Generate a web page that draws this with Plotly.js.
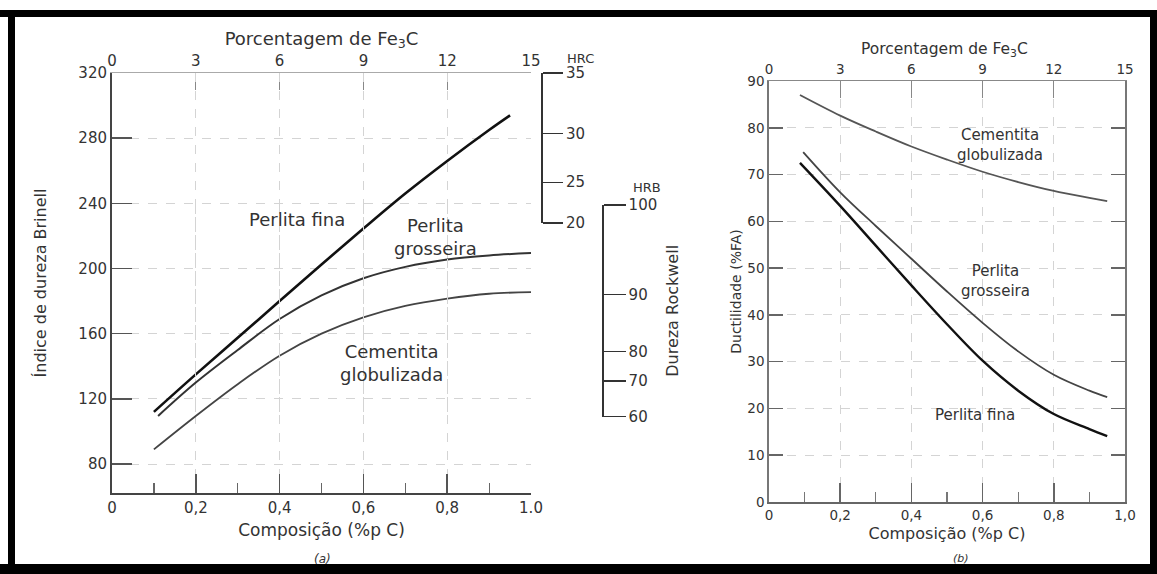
<!DOCTYPE html>
<html><head><meta charset="utf-8">
<script src="https://cdn.plot.ly/plotly-3.0.1.min.js"></script>
<style>html,body{margin:0;padding:0;background:#fff;} #chart{width:1157px;height:574px;}</style>
</head><body><div id="chart"></div>
<script>
// ---------- DATA ----------
const compTicks = [0, 0.2, 0.4, 0.6, 0.8, 1.0];
const compTickTextA = ["0", "0,2", "0,4", "0,6", "0,8", "1.0"];
const compTickTextB = ["0", "0,2", "0,4", "0,6", "0,8", "1,0"];
const compMinor = [0.1, 0.3, 0.5, 0.7, 0.9];
const fe3cTicks = [0, 3, 6, 9, 12, 15];
const fe3cRange = [0, 15];
const brinellTicks = [80, 120, 160, 200, 240, 280, 320];
const brinellRange = [62.2, 320];
const hrcLabels = ["35", "30", "25", "20"];
const hrcBrinell = [320, 283, 253, 228];
const hrbLabels = ["100", "90", "80", "70", "60"];
const hrbBrinell = [239, 184, 149, 131, 109];
const ductTicks = [0, 10, 20, 30, 40, 50, 60, 70, 80, 90];
const ductRange = [0, 90];

// (a) hardness vs composition
const fineC_a = [0.10, 0.20, 0.30, 0.40, 0.50, 0.60, 0.70, 0.80, 0.90, 0.95];
const fineHB = [112, 135, 157.5, 180, 202.5, 224.5, 246, 266, 285, 294];
const coarseC_a = [0.11, 0.20, 0.30, 0.40, 0.50, 0.60, 0.70, 0.80, 0.90, 1.00];
const coarseHB = [109.5, 130, 150, 169, 183.5, 194, 201, 205.5, 208, 209.5];
const sphC_a = [0.10, 0.20, 0.30, 0.40, 0.50, 0.60, 0.70, 0.80, 0.90, 1.00];
const sphHB = [89, 109.5, 129, 146.5, 160, 170, 177, 181.5, 184.5, 185.5];

// (b) ductility vs composition
const sphC_b = [0.087, 0.20, 0.30, 0.40, 0.50, 0.60, 0.70, 0.80, 0.90, 0.95];
const sphRA = [87, 82.6, 79.2, 76, 73.2, 70.6, 68.4, 66.5, 65, 64.3];
const coarseC_b = [0.096, 0.20, 0.30, 0.40, 0.50, 0.60, 0.70, 0.80, 0.90, 0.95];
const coarseRA = [74.8, 66.2, 59, 52, 45, 38.3, 32.2, 27.2, 23.8, 22.4];
const fineC_b = [0.087, 0.20, 0.30, 0.40, 0.50, 0.60, 0.70, 0.80, 0.90, 0.95];
const fineRA = [72.5, 63.3, 54.8, 46.3, 38, 30.2, 23.8, 18.8, 15.6, 14.1];

// ---------- LAYOUT ----------
const W = 1157, H = 574;
const px = v => v / W;
const py = v => 1 - v / H;
const FONT = "DejaVu Sans";
const TXT = "#333";

const yDomA = [py(493), py(73)];
const brinellToPaper = b => yDomA[0] + (b - brinellRange[0]) / (brinellRange[1] - brinellRange[0]) * (yDomA[1] - yDomA[0]);
const hrcMin = Math.min(...hrcBrinell), hrcMax = Math.max(...hrcBrinell);
const hrbMin = Math.min(...hrbBrinell), hrbMax = Math.max(...hrbBrinell);

const grid = {showgrid: true, gridcolor: "#d4d4d4", griddash: "dash", gridwidth: 1};

const traces = [
  {x: fineC_a, y: fineHB, xaxis: "x", yaxis: "y", mode: "lines", line: {color: "#111", width: 2.6, shape: "spline", smoothing: 1}},
  {x: coarseC_a, y: coarseHB, xaxis: "x", yaxis: "y", mode: "lines", line: {color: "#333", width: 2, shape: "spline", smoothing: 1}},
  {x: sphC_a, y: sphHB, xaxis: "x", yaxis: "y", mode: "lines", line: {color: "#444", width: 1.8, shape: "spline", smoothing: 1}},
  {x: [], y: [], xaxis: "x3", yaxis: "y", mode: "lines"},
  {x: [], y: [], xaxis: "x", yaxis: "y3", mode: "lines"},
  {x: [], y: [], xaxis: "x", yaxis: "y4", mode: "lines"},
  {x: sphC_b, y: sphRA, xaxis: "x2", yaxis: "y2", mode: "lines", line: {color: "#555", width: 1.8, shape: "spline", smoothing: 1}},
  {x: coarseC_b, y: coarseRA, xaxis: "x2", yaxis: "y2", mode: "lines", line: {color: "#444", width: 1.8, shape: "spline", smoothing: 1}},
  {x: fineC_b, y: fineRA, xaxis: "x2", yaxis: "y2", mode: "lines", line: {color: "#111", width: 2.4, shape: "spline", smoothing: 1}},
  {x: [], y: [], xaxis: "x4", yaxis: "y2", mode: "lines"}
];

const ann = (text, x, y, xref, yref, size, extra) => Object.assign({
  text, x, y, xref, yref, showarrow: false, font: {family: FONT, size, color: TXT},
  xanchor: "center", yanchor: "middle"
}, extra || {});

const layout = {
  width: W, height: H,
  margin: {l: 0, r: 0, t: 0, b: 0},
  paper_bgcolor: "#fff", plot_bgcolor: "rgba(0,0,0,0)",
  showlegend: false,
  font: {family: FONT, color: TXT},
  // ---- panel (a) ----
  xaxis: Object.assign({
    domain: [px(112), px(531)], range: [0, 1], anchor: "y",
    tickmode: "array", tickvals: compTicks, ticktext: compTickTextA,
    ticks: "inside", ticklen: 19, tickwidth: 1.5, tickcolor: "#555",
    minor: {tickmode: "array", tickvals: compMinor, ticks: "inside", ticklen: 10, tickcolor: "#666", tickwidth: 1.2, showgrid: false},
    showline: true, linecolor: "#444", linewidth: 2, zeroline: false,
    tickfont: {family: FONT, size: 15, color: TXT},
    title: {text: "Composição (%p C)", font: {family: FONT, size: 17, color: TXT}, standoff: 8}
  }, grid),
  yaxis: Object.assign({
    domain: yDomA, range: brinellRange, anchor: "x",
    tickmode: "array", tickvals: brinellTicks,
    ticks: "inside", ticklen: 20, tickwidth: 1.5, tickcolor: "#555",
    showline: true, linecolor: "#444", linewidth: 2, zeroline: false,
    tickfont: {family: FONT, size: 15, color: TXT},
    title: {text: "Índice de dureza Brinell", font: {family: FONT, size: 16, color: TXT}, standoff: 28}
  }, grid),
  xaxis3: {
    overlaying: "x", side: "top", anchor: "y", range: fe3cRange,
    tickmode: "array", tickvals: fe3cTicks,
    ticks: "inside", ticklen: 17, tickwidth: 1.2, tickcolor: "#888",
    showline: true, linecolor: "#aaa", linewidth: 1.5, showgrid: false, zeroline: false,
    tickfont: {family: FONT, size: 15, color: TXT},
    title: {text: "Porcentagem de Fe<sub>3</sub>C", font: {family: FONT, size: 18, color: TXT}, standoff: 1}
  },
  yaxis3: {
    anchor: "free", position: px(542), side: "right",
    domain: [brinellToPaper(hrcMin), brinellToPaper(hrcMax)], range: [hrcMin, hrcMax],
    tickmode: "array", tickvals: hrcBrinell, ticktext: hrcLabels,
    ticks: "outside", ticklen: 20, tickwidth: 1.3, tickcolor: "#333",
    showline: true, linecolor: "#333", linewidth: 2, showgrid: false, zeroline: false,
    tickfont: {family: FONT, size: 15, color: TXT}
  },
  yaxis4: {
    anchor: "free", position: px(602), side: "right",
    domain: [brinellToPaper(hrbMin), brinellToPaper(hrbMax)], range: [hrbMin, hrbMax],
    tickmode: "array", tickvals: hrbBrinell, ticktext: hrbLabels,
    ticks: "outside", ticklen: 22, tickwidth: 1.3, tickcolor: "#333",
    showline: true, linecolor: "#333", linewidth: 1.6, showgrid: false, zeroline: false,
    tickfont: {family: FONT, size: 15, color: TXT},
    title: {text: "Dureza Rockwell", font: {family: FONT, size: 16, color: TXT}, standoff: 10}
  },
  // ---- panel (b) ----
  xaxis2: Object.assign({
    domain: [px(769), px(1125)], range: [0, 1], anchor: "y2",
    tickmode: "array", tickvals: compTicks, ticktext: compTickTextB,
    ticks: "inside", ticklen: 19, tickwidth: 1.5, tickcolor: "#666",
    minor: {tickmode: "array", tickvals: compMinor, ticks: "inside", ticklen: 10, tickcolor: "#777", tickwidth: 1.2, showgrid: false},
    showline: true, linecolor: "#666", linewidth: 2, zeroline: false,
    tickfont: {family: FONT, size: 13.5, color: TXT},
    title: {text: "Composição (%p C)", font: {family: FONT, size: 16, color: TXT}, standoff: 6}
  }, grid),
  yaxis2: Object.assign({
    domain: [py(502), py(81)], range: ductRange, anchor: "x2",
    tickmode: "array", tickvals: ductTicks,
    ticks: "inside", ticklen: 14, tickwidth: 1.5, tickcolor: "#666",
    showline: true, mirror: "ticks", linecolor: "#777", linewidth: 1.8, zeroline: false,
    tickfont: {family: FONT, size: 13.5, color: TXT},
    title: {text: "Ductilidade (%FA)", font: {family: FONT, size: 14, color: TXT}, standoff: 2}
  }, grid),
  xaxis4: {
    overlaying: "x2", side: "top", anchor: "y2", range: fe3cRange,
    tickmode: "array", tickvals: fe3cTicks,
    ticks: "inside", ticklen: 17, tickwidth: 1.2, tickcolor: "#888",
    showline: true, linecolor: "#888", linewidth: 1.5, showgrid: false, zeroline: false,
    tickfont: {family: FONT, size: 13.5, color: TXT}
  },
  annotations: [
    ann("Perlita fina", 0.4415, 229.8, "x", "y", 18),
    ann("Perlita<br>grosseira", 0.771, 219.6, "x", "y", 18),
    ann("Cementita<br>globulizada", 0.668, 142.3, "x", "y", 18),
    ann("HRC", px(580), py(58), "paper", "paper", 13),
    ann("HRB", px(647), py(188), "paper", "paper", 13),
    ann("<i>(a)</i>", px(322), py(559), "paper", "paper", 12),
    ann("Porcentagem de Fe<sub>3</sub>C", px(944), py(50), "paper", "paper", 15.5),
    ann("Cementita<br>globulizada", 0.649, 76.4, "x2", "y2", 15),
    ann("Perlita<br>grosseira", 0.635, 47.3, "x2", "y2", 15),
    ann("Perlita fina", 0.579, 18.6, "x2", "y2", 15),
    ann("<i>(b)</i>", px(961), py(558), "paper", "paper", 11)
  ],
  shapes: [
    {type: "rect", xref: "paper", yref: "paper", x0: 0, x1: 1, y0: py(17), y1: py(10), fillcolor: "#000", line: {width: 0}},
    {type: "rect", xref: "paper", yref: "paper", x0: 0, x1: 1, y0: 0, y1: py(564), fillcolor: "#000", line: {width: 0}},
    {type: "rect", xref: "paper", yref: "paper", x0: px(8), x1: px(15), y0: 0, y1: py(10), fillcolor: "#000", line: {width: 0}},
    {type: "rect", xref: "paper", yref: "paper", x0: px(1150), x1: 1, y0: 0, y1: py(10), fillcolor: "#000", line: {width: 0}}
  ]
};

Plotly.newPlot("chart", traces, layout, {displayModeBar: false, staticPlot: true});
</script></body></html>
